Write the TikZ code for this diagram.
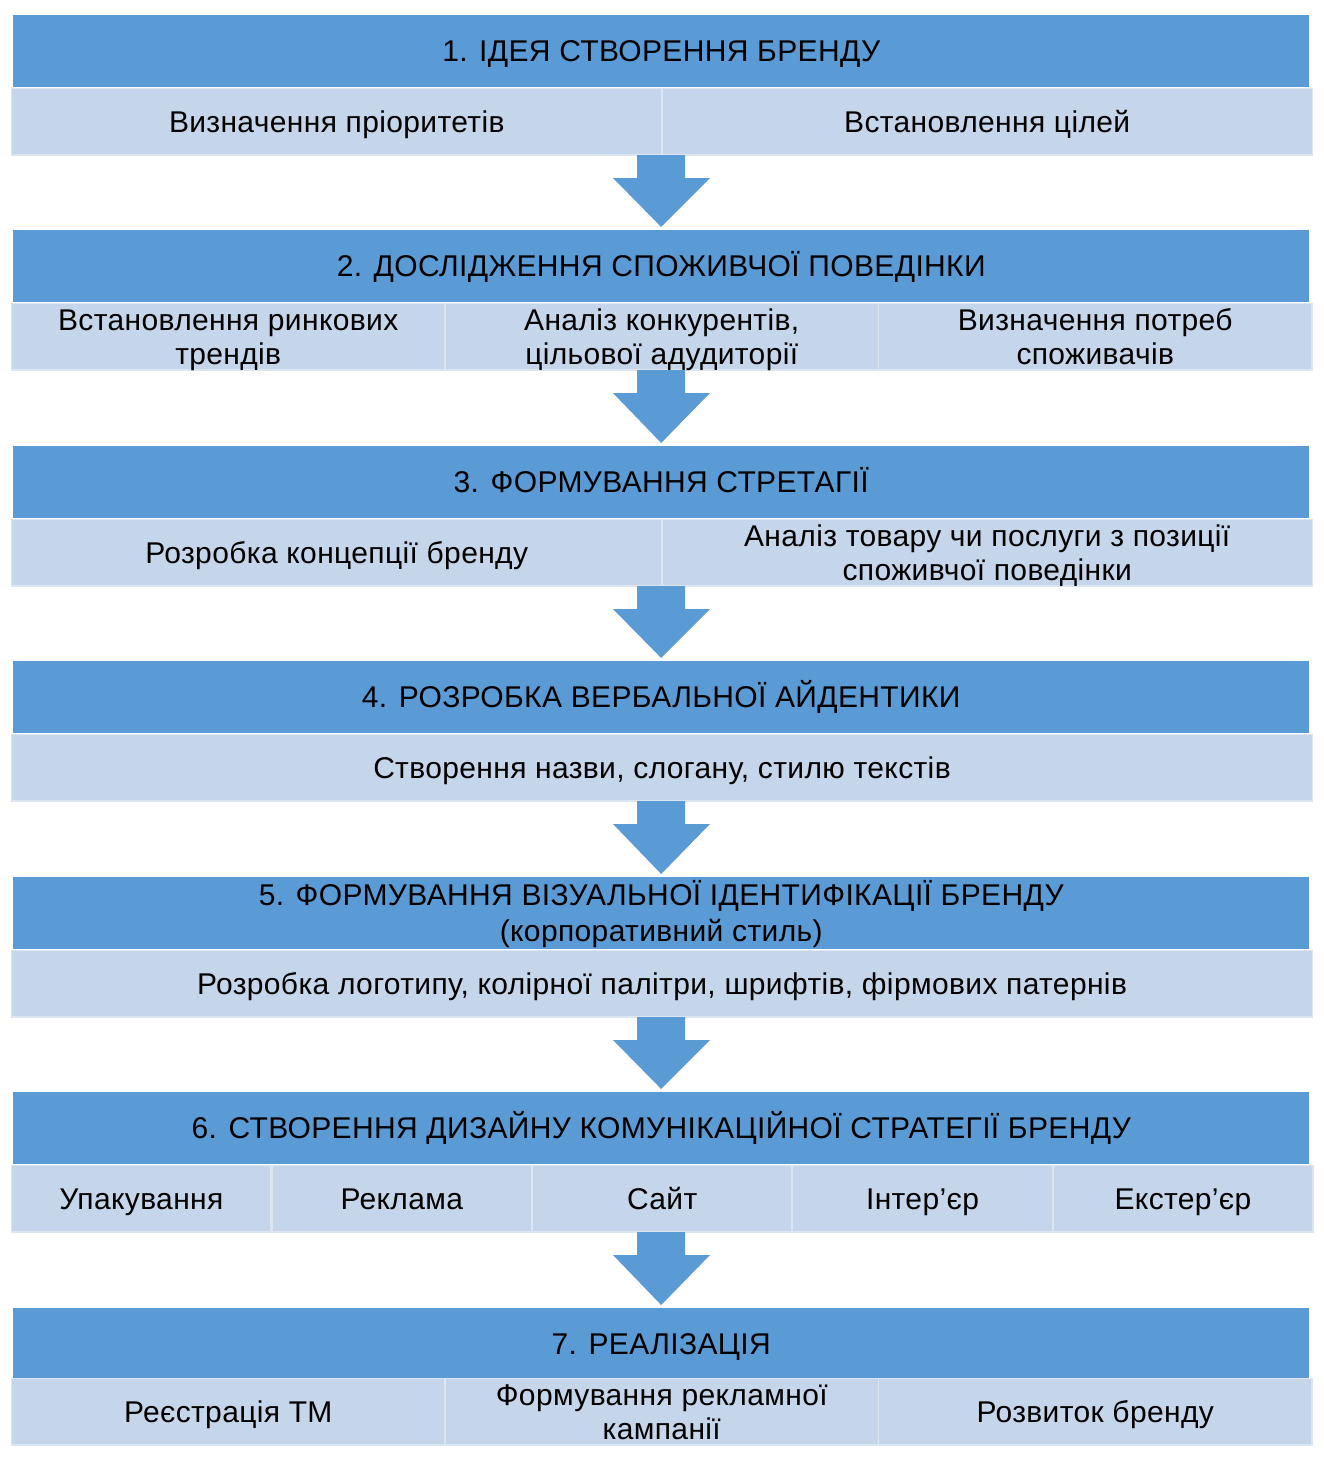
\documentclass[tikz,border=0pt]{standalone}
\usepackage{fontspec}
\setmainfont[LetterSpace=1.2]{Liberation Sans}
\usetikzlibrary{calc}
\definecolor{hdrblue}{HTML}{5B9BD5}
\definecolor{ltblue}{HTML}{C5D5EA}
\definecolor{ltedge}{HTML}{DCE6F2}
\tikzset{
  hdrbox/.style={fill=hdrblue, minimum width=1296pt, minimum height=72pt, anchor=north west,
    inner sep=0pt, align=center, text height=21.5pt, text depth=0pt, font=\fontsize{30}{36}\selectfont},
  cellbox/.style={fill=ltblue, draw=ltedge, line width=1.5pt, minimum height=66.5pt, anchor=north west,
    inner sep=0pt, align=center, text height=21.5pt, text depth=0pt, font=\fontsize{30}{34}\selectfont},
  twoline/.style={text height=55.5pt},
  twolinehdr/.style={text height=57.5pt},
  arrowfill/.style={fill=hdrblue, draw=none},
}
\begin{document}
\begin{tikzpicture}[x=1pt,y=-1pt]
\useasboundingbox (0,0) rectangle (1323,1459);
% block 1
\node[hdrbox] (h1) at (13,15) {1. ІДЕЯ СТВОРЕННЯ БРЕНДУ};
\node[cellbox, minimum width=650.5pt] (c11) at (10.75,87.75) {Визначення пріоритетів};
\node[cellbox, minimum width=650.5pt] (c12) at (661.25,87.75) {Встановлення цілей};
\coordinate (b1) at (661,155);
% block 2
\node[hdrbox] (h2) at (13,230) {2. ДОСЛІДЖЕННЯ СПОЖИВЧОЇ ПОВЕДІНКИ};
\node[cellbox, twoline, minimum width=433.5pt] (c21) at (10.75,302.75) {Встановлення ринкових\\трендів};
\node[cellbox, twoline, minimum width=433.5pt] (c22) at (444.25,302.75) {Аналіз конкурентів,\\цільової адудиторії};
\node[cellbox, twoline, minimum width=433.5pt] (c23) at (877.75,302.75) {Визначення потреб\\споживачів};
\coordinate (b2) at (661,370);
% block 3
\node[hdrbox] (h3) at (13,446) {3. ФОРМУВАННЯ СТРЕТАГІЇ};
\node[cellbox, minimum width=650.5pt] (c31) at (10.75,518.75) {Розробка концепції бренду};
\node[cellbox, twoline, minimum width=650.5pt] (c32) at (661.25,518.75) {Аналіз товару чи послуги з позиції\\споживчої поведінки};
\coordinate (b3) at (661,586);
% block 4
\node[hdrbox] (h4) at (13,661) {4. РОЗРОБКА ВЕРБАЛЬНОЇ АЙДЕНТИКИ};
\node[cellbox, minimum width=1301pt] (c41) at (10.75,733.75) {Створення назви, слогану, стилю текстів};
\coordinate (b4) at (661,801);
% block 5
\node[hdrbox, twolinehdr] (h5) at (13,877) {5. ФОРМУВАННЯ ВІЗУАЛЬНОЇ ІДЕНТИФІКАЦІЇ БРЕНДУ\\(корпоративний стиль)};
\node[cellbox, minimum width=1301pt] (c51) at (10.75,949.75) {Розробка логотипу, колірної палітри, шрифтів, фірмових патернів};
\coordinate (b5) at (661,1017);
% block 6
\node[hdrbox] (h6) at (13,1092) {6. СТВОРЕННЯ ДИЗАЙНУ КОМУНІКАЦІЙНОЇ СТРАТЕГІЇ БРЕНДУ};
\node[cellbox, minimum width=259.7pt] (c61) at (10.75,1164.75) {Упакування};
\node[cellbox, minimum width=259.7pt] (c62) at (271.15,1164.75) {Реклама};
\node[cellbox, minimum width=259.7pt] (c63) at (531.55,1164.75) {Сайт};
\node[cellbox, minimum width=259.7pt] (c64) at (791.95,1164.75) {Інтер’єр};
\node[cellbox, minimum width=259.7pt] (c65) at (1052.35,1164.75) {Екстер’єр};
\coordinate (b6) at (661,1232);
% block 7
\node[hdrbox] (h7) at (13,1308) {7. РЕАЛІЗАЦІЯ};
\node[cellbox, minimum width=433.5pt] (c71) at (10.75,1377.75) {Реєстрація ТМ};
\node[cellbox, twoline, minimum width=433.5pt] (c72) at (444.25,1377.75) {Формування рекламної\\кампанії};
\node[cellbox, minimum width=433.5pt] (c73) at (877.75,1377.75) {Розвиток бренду};
% arrows
\foreach \a/\b in {b1/h2,b2/h3,b3/h4,b4/h5,b5/h6,b6/h7}{
  \fill[arrowfill] ($(\a)+(-24,0)$) -- ($(\a)+(24,0)$) -- ($(\a)+(24,23)$) -- ($(\a)+(49,23)$)
    -- ($(\b.north)+(0,-3)$) -- ($(\a)+(-48,23)$) -- ($(\a)+(-24,23)$) -- cycle;
}
\end{tikzpicture}
\end{document}
